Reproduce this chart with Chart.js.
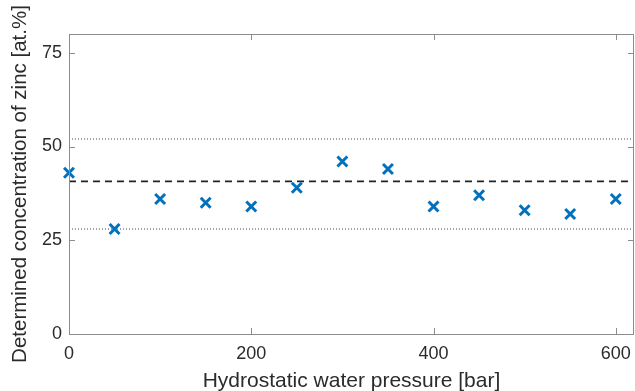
<!DOCTYPE html>
<html>
<head>
<meta charset="utf-8">
<script src="https://cdn.jsdelivr.net/npm/chart.js@4/dist/chart.umd.min.js"></script>
<style>
  html, body { margin: 0; padding: 0; background: #fff; }
  #wrap { width: 635px; height: 391px; }
</style>
</head>
<body>
<div id="wrap"><canvas id="c" width="635" height="391"></canvas></div>
<script>
// Hydrostatic water pressure [bar]
const pressure = [0, 50, 100, 150, 200, 250, 300, 350, 400, 450, 500, 550, 600];
// Determined zinc concentration [at.%]
const zinc = [43, 28, 36, 35, 34, 39, 46, 44, 34, 37, 33, 32, 36];
// Reference levels: mean (dashed) and limits (dotted)
const meanLevel = 40.7;
const upperLimit = 52;
const lowerLimit = 28;
const xTicks = [0, 200, 400, 600];
const yTicks = [0, 25, 50, 75];
const xRange = [0, 620];
const yRange = [0, 80];

const axisGray = '#8c8c8c';
const textGray = '#2b2b2b';
const FONT = '"Liberation Sans", Arial, Helvetica, sans-serif';

const hLine = (y) => [{ x: xRange[0], y }, { x: xRange[1], y }];

// Let the plot run to the right edge: the tick labels may overhang the axis ends
const noEdgePadding = {
  id: 'noEdgePadding',
  beforeLayout(chart) {
    Object.values(chart.scales).forEach(s => {
      s._calculatePadding = function () {
        this.paddingLeft = this.paddingRight = this.paddingTop = this.paddingBottom = 0;
        if (this._handleMargins) this._handleMargins();
      };
      s.getPadding = () => ({ left: 0, top: 0, right: 0, bottom: 0 });
    });
  }
};

// Box around the plot with ticks pointing inward on all four sides
const boxPlugin = {
  id: 'boxTicks',
  afterDatasetsDraw(chart) {
    const { ctx, chartArea: a, scales: { x, y } } = chart;
    ctx.save();
    ctx.strokeStyle = axisGray;
    ctx.lineWidth = 1;
    ctx.strokeRect(a.left + 0.5, a.top + 0.5, a.right - a.left - 1, a.bottom - a.top);
    const len = 6;
    ctx.beginPath();
    xTicks.forEach(v => {
      const px = Math.round(x.getPixelForValue(v)) + 0.5;
      ctx.moveTo(px, a.bottom); ctx.lineTo(px, a.bottom - len);
      ctx.moveTo(px, a.top); ctx.lineTo(px, a.top + len);
    });
    yTicks.forEach(v => {
      const py = Math.round(y.getPixelForValue(v)) + 0.5;
      ctx.moveTo(a.left, py); ctx.lineTo(a.left + len, py);
      ctx.moveTo(a.right, py); ctx.lineTo(a.right - len, py);
    });
    ctx.stroke();
    ctx.restore();
  }
};

new Chart(document.getElementById('c'), {
  type: 'scatter',
  data: {
    datasets: [
      {
        data: pressure.map((p, i) => ({ x: p, y: zinc[i] })),
        pointStyle: 'crossRot',
        pointRadius: 7,
        pointHoverRadius: 7,
        pointBorderWidth: 3,
        borderColor: '#0072BD',
        backgroundColor: '#0072BD',
        showLine: false,
        clip: false,
        order: 0
      },
      {
        data: hLine(meanLevel),
        showLine: true,
        borderColor: '#222',
        borderWidth: 1.6,
        borderDash: [7, 5],
        pointRadius: 0,
        order: 1
      },
      {
        data: hLine(upperLimit),
        showLine: true,
        borderColor: '#444',
        borderWidth: 1,
        borderDash: [1, 2],
        pointRadius: 0,
        order: 1
      },
      {
        data: hLine(lowerLimit),
        showLine: true,
        borderColor: '#444',
        borderWidth: 1,
        borderDash: [1, 2],
        pointRadius: 0,
        order: 1
      }
    ]
  },
  options: {
    responsive: false,
    animation: false,
    events: [],
    layout: { autoPadding: false, padding: { top: 34, right: 1, left: 0, bottom: 0 } },
    plugins: { legend: { display: false }, tooltip: { enabled: false } },
    scales: {
      x: {
        type: 'linear',
        min: xRange[0],
        max: xRange[1],
        afterBuildTicks: (s) => { s.ticks = xTicks.map(v => ({ value: v })); },
        afterFit: (s) => { s.height = 57; },
        grid: { display: false, drawTicks: false },
        border: { display: false },
        ticks: { color: textGray, padding: 9, font: { family: FONT, size: 18 }, maxRotation: 0 },
        title: {
          display: true,
          text: 'Hydrostatic water pressure [bar]',
          color: textGray,
          font: { family: FONT, size: 21 },
          padding: { top: 0, bottom: -3 }
        }
      },
      y: {
        type: 'linear',
        min: yRange[0],
        max: yRange[1],
        afterBuildTicks: (s) => { s.ticks = yTicks.map(v => ({ value: v })); },
        afterFit: (s) => { s.width = 69; },
        grid: { display: false, drawTicks: false },
        border: { display: false },
        ticks: { color: textGray, padding: 7, font: { family: FONT, size: 18 } },
        title: {
          display: true,
          text: 'Determined concentration of zinc [at.%]',
          color: textGray,
          font: { family: FONT, size: 20.5 },
          padding: { top: 8, bottom: 0 }
        }
      }
    }
  },
  plugins: [noEdgePadding, boxPlugin]
});
</script>
</body>
</html>
